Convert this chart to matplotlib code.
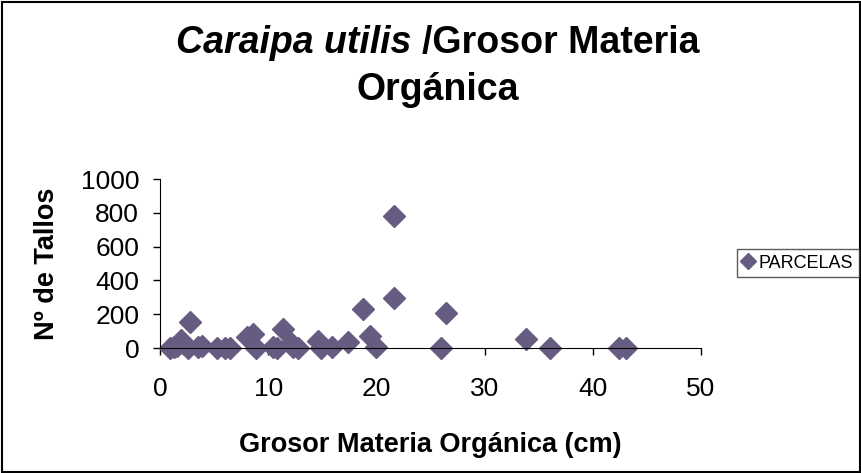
import matplotlib
matplotlib.use('Agg')
import matplotlib.pyplot as plt
from matplotlib.patches import Rectangle

# datos
grosor = [0.9, 1.3, 1.6, 1.9, 2.2, 2.6, 2.8, 3.5, 3.9, 5.3, 6.0, 6.5,
          8.0, 8.6, 8.9, 10.4, 10.8, 11.4, 12.1, 12.3, 12.8, 14.6, 14.9,
          15.9, 17.4, 18.8, 19.4, 20.0, 21.6, 21.6, 26.0, 26.4, 33.8,
          36.0, 42.4, 43.1]
tallos = [0, 5, 10, 47, 25, 0, 155, 5, 10, 0, 0, 0,
          67, 80, 0, 5, 0, 110, 30, 5, 0, 43, 0,
          8, 37, 231, 73, 8, 781, 294, 0, 209, 53,
          0, 0, 0]

color = '#665b80'
plt.rcParams['font.family'] = ['Liberation Sans', 'DejaVu Sans']

W, H = 862, 473
fig = plt.figure(figsize=(W / 100, H / 100), dpi=100)
ax = fig.add_axes([160 / W, 1 - 348 / H, 541 / W, 169 / H])

ax.plot(grosor, tallos, linestyle='none', marker='D', markersize=11.5,
        color=color, markeredgecolor=color, clip_on=False, label='PARCELAS')

ax.set_xlim(0, 50)
ax.set_ylim(0, 1000)
ax.set_xticks(range(0, 51, 10))
ax.set_yticks(range(0, 1001, 200))
ax.spines['top'].set_visible(False)
ax.spines['right'].set_visible(False)
ax.tick_params(axis='x', direction='out', length=5, width=1, pad=16, labelsize=19)
ax.tick_params(axis='y', direction='out', length=5, width=1, pad=10, labelsize=19)

# etiquetas de ejes
fig.text(430 / W, 1 - 452 / H, 'Grosor Materia Orgánica (cm)', fontsize=19.5,
         fontweight='bold', ha='center', va='baseline')
fig.text(47 / W, 1 - 264 / H, 'Nº de Tallos', fontsize=19.5, fontweight='bold',
         rotation=90, ha='center', va='center')

# titulo con parte en cursiva
t1 = fig.text(0.1, 0.0, 'Caraipa utilis ', fontsize=27, style='italic',
              fontweight='bold', va='baseline')
t2 = ax.annotate('/Grosor Materia', xy=(1, 0), xycoords=t1, fontsize=27,
                 fontweight='bold', va='bottom')
fig.canvas.draw()
r = fig.canvas.get_renderer()
w1 = t1.get_window_extent(r).width
w2 = t2.get_window_extent(r).width
cx = 438 / W
t1.set_position((cx - (w1 + w2) / 2 / W, 1 - 53 / H))
fig.text(cx, 1 - 100.5 / H, 'Orgánica', fontsize=27, fontweight='bold',
         ha='center', va='baseline')

leg = fig.legend(loc='center', bbox_to_anchor=(798 / W, 1 - 263 / H),
                 fontsize=13, frameon=True, fancybox=False, handlelength=0.6,
                 handletextpad=0.3, borderpad=0.3, markerscale=0.7)
leg.get_frame().set_edgecolor('#333333')
leg.get_frame().set_linewidth(1)

fig.patches.append(Rectangle((0.002, 0.003), 0.996, 0.993, transform=fig.transFigure,
                             fill=False, edgecolor='black', linewidth=1.5))

fig.savefig('out.png', dpi=100)
